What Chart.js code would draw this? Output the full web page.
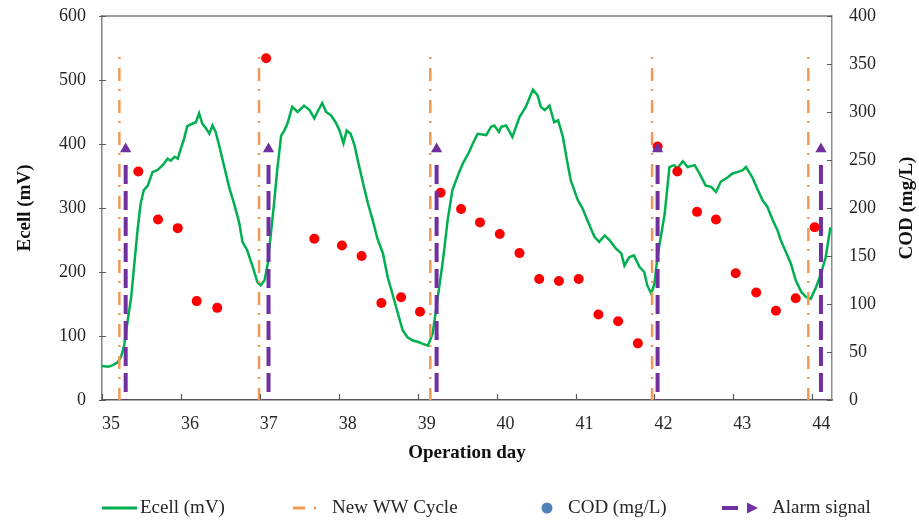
<!DOCTYPE html>
<html>
<head>
<meta charset="utf-8">
<script src="https://cdn.jsdelivr.net/npm/chart.js@4.4.1/dist/chart.umd.min.js"></script>
<style>
  html, body { margin: 0; padding: 0; background: #fff; }
  #wrap { width: 919px; height: 521px; position: relative; }
</style>
</head>
<body>
<div id="wrap"><canvas id="chart"></canvas></div>
<script>
// --- data ---
const ecellDays = [35.00, 35.08, 35.13, 35.20, 35.24, 35.28, 35.32, 35.37, 35.41, 35.45, 35.49, 35.53, 35.58, 35.64, 35.70,
  35.77, 35.83, 35.87, 35.92, 35.96, 36.00, 36.04, 36.08, 36.15, 36.19, 36.23, 36.27, 36.32, 36.36, 36.40, 36.44, 36.49,
  36.55, 36.61, 36.68, 36.74, 36.78, 36.84, 36.91, 36.97, 37.01, 37.06, 37.10, 37.14, 37.18, 37.22, 37.27, 37.31, 37.35,
  37.41, 37.48, 37.56, 37.63, 37.69, 37.73, 37.79, 37.84, 37.90, 37.96, 38.01, 38.06, 38.10, 38.15, 38.20, 38.24, 38.30,
  38.37, 38.43, 38.49, 38.56, 38.62, 38.68, 38.75, 38.81, 38.87, 38.94, 39.00, 39.06, 39.13, 39.19, 39.25, 39.32, 39.38,
  39.44, 39.51, 39.57, 39.65, 39.70, 39.76, 39.87, 39.93, 39.97, 40.03, 40.06, 40.12, 40.20, 40.29, 40.37, 40.46, 40.52,
  40.56, 40.61, 40.67, 40.73, 40.78, 40.84, 40.90, 40.94, 41.03, 41.09, 41.15, 41.24, 41.30, 41.37, 41.43, 41.51, 41.58,
  41.62, 41.68, 41.74, 41.81, 41.87, 41.91, 41.96, 42.00, 42.04, 42.13, 42.19, 42.25, 42.29, 42.36, 42.42, 42.51, 42.57,
  42.65, 42.72, 42.78, 42.84, 42.93, 42.99, 43.05, 43.12, 43.16, 43.20, 43.24, 43.31, 43.37, 43.43, 43.50, 43.56, 43.60,
  43.67, 43.73, 43.79, 43.86, 43.92, 43.98, 44.05, 44.11, 44.17, 44.23];
const ecellValues = [53, 52, 54, 59, 67, 85, 119, 161, 213, 265, 307, 328, 335, 356, 359,
  367, 377, 374, 380, 377, 393, 408, 428, 432, 434, 448, 432, 424, 416, 429, 419, 395,
  364, 333, 304, 276, 247, 234, 208, 184, 179, 187, 213, 260, 307, 359, 413, 421, 432,
  458, 450, 460, 453, 440, 450, 464, 450, 445, 434, 421, 401, 421, 416, 398, 375, 343,
  307, 281, 252, 229, 192, 166, 135, 109, 98, 93, 91, 88, 85, 104, 156, 218, 281,
  328, 351, 369, 387, 401, 416, 414, 427, 429, 419, 427, 429, 411, 442, 458, 485, 476,
  458, 453, 460, 434, 437, 411, 369, 343, 312, 299, 281, 255, 247, 257, 250, 237, 229,
  210, 223, 226, 208, 200, 179, 166, 182, 225, 291, 364, 367, 362, 373, 364, 367, 354,
  335, 333, 325, 341, 348, 354, 356, 359, 364, 356, 348, 328, 312, 302, 281, 265, 250,
  230, 213, 187, 169, 161, 158, 177, 197, 223, 270];

const codDays = [35.46, 35.71, 35.96, 36.20, 36.46, 37.08, 37.69, 38.04, 38.29, 38.54, 38.79, 39.03, 39.29, 39.55, 39.79, 40.04,
  40.29, 40.54, 40.79, 41.04, 41.29, 41.54, 41.79, 42.04, 42.29, 42.54, 42.78, 43.03, 43.29, 43.54, 43.79, 44.03];
const codValues = [238, 188, 179, 103, 96, 356, 168, 161, 150, 101, 107, 92, 216, 199, 185, 173,
  153, 126, 124, 126, 89, 82, 59, 264, 238, 196, 188, 132, 112, 93, 106, 180];

const cycleDays = [35.22, 36.99, 39.16, 41.97, 43.95];
const cycleTop = 536;
const alarmDays = [35.30, 37.11, 39.24, 42.04, 44.11];
const alarmTop = 367;
const alarmMarker = 392;

const dayTicks = [35, 36, 37, 38, 39, 40, 41, 42, 43, 44];

// --- colours ---
const GREEN = '#00B050';
const ORANGE = '#F29A55';
const RED = '#FF0000';
const PURPLE = '#7030A0';
const BLUE = '#4F81BD';
const AXIS = '#595959';
const TEXT = '#262626';
const FONT = "'Liberation Serif', 'Times New Roman', serif";

function verticalLines(days, top) {
  const pts = [];
  days.forEach(d => {
    pts.push({ x: d, y: top }, { x: d, y: 0 }, { x: d, y: null });
  });
  return pts;
}

// stop the scales from reserving extra room for label overhang
function noPadding(s) {
  s.paddingTop = 0;
  s.paddingBottom = 0;
  s.paddingLeft = 0;
  s.paddingRight = 0;
}

// inner tick marks, top frame line, right title and legend
const decorations = {
  id: 'decorations',
  afterDraw(chart) {
    const { ctx, chartArea: a, scales } = chart;
    ctx.save();
    ctx.strokeStyle = '#7f7f7f';
    ctx.lineWidth = 1.5;
    ctx.beginPath();
    ctx.moveTo(a.left, a.top);
    ctx.lineTo(a.right, a.top);
    ctx.stroke();

    ctx.strokeStyle = AXIS;
    ctx.lineWidth = 1.2;
    ctx.beginPath();
    dayTicks.forEach(v => {
      const px = Math.round(scales.x.getPixelForValue(v)) + 0.5;
      ctx.moveTo(px, a.bottom);
      ctx.lineTo(px, a.bottom - 6);
    });
    scales.y.ticks.forEach(t => {
      const py = Math.round(scales.y.getPixelForValue(t.value)) + 0.5;
      ctx.moveTo(a.left - 3, py);
      ctx.lineTo(a.left + 4, py);
    });
    scales.y2.ticks.forEach(t => {
      const py = Math.round(scales.y2.getPixelForValue(t.value)) + 0.5;
      ctx.moveTo(a.right - 5, py);
      ctx.lineTo(a.right, py);
    });
    ctx.stroke();

    // right axis title reads bottom to top
    ctx.fillStyle = '#111';
    ctx.font = 'bold 19px ' + FONT;
    ctx.textAlign = 'center';
    ctx.textBaseline = 'middle';
    ctx.translate(907, (a.top + a.bottom) / 2);
    ctx.rotate(-Math.PI / 2);
    ctx.fillText('COD (mg/L)', 0, 0);
    ctx.restore();

    // legend
    const ly = 508;
    ctx.save();
    ctx.font = '19px ' + FONT;
    ctx.fillStyle = TEXT;
    ctx.textAlign = 'left';
    ctx.textBaseline = 'middle';
    ctx.lineWidth = 3;

    ctx.strokeStyle = GREEN;
    ctx.beginPath(); ctx.moveTo(102, ly); ctx.lineTo(137, ly); ctx.stroke();
    ctx.fillText('Ecell (mV)', 140, ly);

    ctx.strokeStyle = ORANGE;
    ctx.beginPath(); ctx.moveTo(293, ly); ctx.lineTo(305, ly); ctx.moveTo(314, ly); ctx.lineTo(316, ly); ctx.stroke();
    ctx.fillText('New WW Cycle', 332, ly);

    ctx.fillStyle = BLUE;
    ctx.beginPath(); ctx.arc(547, ly, 5.5, 0, Math.PI * 2); ctx.fill();
    ctx.fillStyle = TEXT;
    ctx.fillText('COD (mg/L)', 568, ly);

    ctx.strokeStyle = PURPLE;
    ctx.lineWidth = 4;
    ctx.beginPath(); ctx.moveTo(722, ly); ctx.lineTo(738, ly); ctx.stroke();
    ctx.fillStyle = PURPLE;
    ctx.beginPath(); ctx.moveTo(747, ly - 5.5); ctx.lineTo(758, ly); ctx.lineTo(747, ly + 5.5); ctx.closePath(); ctx.fill();
    ctx.fillStyle = TEXT;
    ctx.fillText('Alarm signal', 772, ly);
    ctx.restore();
  }
};

Chart.defaults.font.family = FONT;
Chart.defaults.color = TEXT;

new Chart(document.getElementById('chart'), {
  type: 'line',
  data: {
    datasets: [
      {
        label: 'Alarm signal marker',
        data: alarmDays.map(d => ({ x: d, y: alarmMarker })),
        showLine: false,
        pointStyle: 'triangle',
        pointRadius: 6.5,
        backgroundColor: PURPLE,
        borderWidth: 0
      },
      {
        label: 'Alarm signal',
        data: verticalLines(alarmDays, alarmTop),
        borderColor: PURPLE,
        borderWidth: 4,
        borderDash: [19, 7],
        pointRadius: 0,
        spanGaps: false
      },
      {
        label: 'COD (mg/L)',
        data: codDays.map((d, i) => ({ x: d, y: codValues[i] })),
        yAxisID: 'y2',
        showLine: false,
        pointRadius: 5,
        backgroundColor: RED,
        borderWidth: 0
      },
      {
        label: 'New WW Cycle',
        data: verticalLines(cycleDays, cycleTop),
        borderColor: ORANGE,
        borderWidth: 2.5,
        borderDash: [2, 9, 13, 8],
        pointRadius: 0,
        spanGaps: false
      },
      {
        label: 'Ecell (mV)',
        data: ecellDays.map((d, i) => ({ x: d, y: ecellValues[i] })),
        borderColor: GREEN,
        borderWidth: 2.5,
        pointRadius: 0,
        tension: 0
      }
    ]
  },
  options: {
    responsive: true,
    maintainAspectRatio: false,
    animation: false,
    layout: { padding: { top: 16, bottom: 57, left: 0, right: 0 } },
    plugins: {
      legend: { display: false },
      tooltip: { enabled: false }
    },
    scales: {
      x: {
        type: 'linear',
        min: 35,
        max: 44.25,
        afterBuildTicks: s => { s.ticks = dayTicks.map(v => ({ value: v })); },
        afterFit: s => { s.height = 64; noPadding(s); },
        grid: { display: false, drawTicks: false },
        border: { display: true, color: AXIS, width: 1.5 },
        ticks: { font: { size: 18 }, padding: 13, labelOffset: 9, maxRotation: 0, callback: v => v },
        title: { display: true, text: 'Operation day', color: '#111', font: { size: 19, weight: 'bold' }, padding: { top: 0, bottom: 0 } }
      },
      y: {
        position: 'left',
        min: 0,
        max: 600,
        afterFit: s => { s.width = 102; noPadding(s); },
        grid: { display: false, drawTicks: false },
        border: { display: true, color: '#7f7f7f', width: 1.5 },
        ticks: { stepSize: 100, font: { size: 18 }, padding: 16 },
        title: { display: true, text: 'Ecell (mV)', color: '#111', font: { size: 19, weight: 'bold' }, padding: { top: 14, bottom: 0 } }
      },
      y2: {
        position: 'right',
        min: 0,
        max: 400,
        afterFit: s => { s.width = 87; noPadding(s); },
        grid: { display: false, drawTicks: false },
        border: { display: true, color: '#8c8c8c', width: 1.5 },
        ticks: { stepSize: 50, font: { size: 18 }, padding: 17 }
      }
    }
  },
  plugins: [decorations]
});
</script>
</body>
</html>
